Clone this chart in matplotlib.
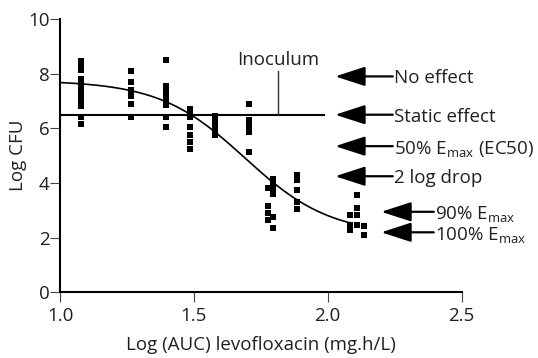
import numpy as np
import matplotlib
matplotlib.use("Agg")
import matplotlib.pyplot as plt

plt.rcParams['font.family'] = ['Open Sans', 'DejaVu Sans']
plt.rcParams['mathtext.default'] = 'regular'

# ---- data ----
group_x = [1.08, 1.264, 1.396, 1.486, 1.578, 1.707, 1.778, 1.797, 1.886, 2.083, 2.11, 2.136]
group_y = [
    [8.45, 8.3, 8.15, 7.8, 7.6, 7.45, 7.25, 7.05, 6.9, 6.8, 6.4, 6.15],
    [8.1, 7.7, 7.4, 7.2, 6.9, 6.4],
    [8.5, 7.55, 7.35, 7.15, 6.95, 6.85, 6.4, 6.05],
    [6.7, 6.55, 6.4, 6.05, 5.75, 5.5, 5.25],
    [6.45, 6.25, 6.05, 5.9, 5.75],
    [6.9, 6.3, 6.1, 5.85, 5.15],
    [3.83, 3.15, 2.9, 2.65],
    [4.15, 3.95, 3.75, 3.6, 2.75, 2.35],
    [4.28, 4.12, 3.74, 3.3, 3.05],
    [2.82, 2.46, 2.28],
    [3.57, 3.09, 2.82, 2.48],
    [2.43, 2.11],
]

# sigmoid Emax model (log scale)
model_top = 7.75
model_bottom = 2.1
model_x50 = 1.69
model_slope = 0.16
curve_range = (1.0, 2.085)

inoculum_level = 6.5
inoculum_range = (1.0, 1.985)
inoculum_label_x = 1.816
inoculum_tick_top = 8.1

effect_labels = ["No effect", "Static effect", "50% E$_{max}$ (EC50)", "2 log drop",
                 "90% E$_{max}$", "100% E$_{max}$"]
effect_levels = [7.9, 6.5, 5.35, 4.25, 2.95, 2.2]
arrow_tip_x = [2.028, 2.028, 2.028, 2.028, 2.2, 2.2]
arrow_tail_x = [2.243, 2.243, 2.243, 2.243, 2.396, 2.396]

x_ticks = [1.0, 1.5, 2.0, 2.5]
x_ticklabels = ["1.0", "1.5", "2.0", "2.5"]
y_ticks = [0, 2, 4, 6, 8, 10]

text_color = '#231f20'
fs = 13.5

fig = plt.figure(figsize=(5.38, 3.58), dpi=100)
ax = fig.add_axes([0.1115, 0.183, 0.7465, 0.764])

xs = np.concatenate([[gx] * len(gy) for gx, gy in zip(group_x, group_y)])
ys = np.concatenate([gy for gy in group_y])
ax.plot(xs, ys, linestyle='none', marker='s', markersize=4.2, color='black',
        markeredgewidth=0, zorder=3)

xc = np.linspace(curve_range[0], curve_range[1], 300)
yc = model_bottom + (model_top - model_bottom) / (1 + np.exp((xc - model_x50) / model_slope))
ax.plot(xc, yc, color='black', lw=1.2, zorder=2)

ax.plot(inoculum_range, [inoculum_level, inoculum_level], color='black', lw=1.5, zorder=2)
ax.plot([inoculum_label_x, inoculum_label_x], [inoculum_level, inoculum_tick_top],
        color='#333333', lw=1.0, zorder=2)
ax.text(inoculum_label_x, 8.5, "Inoculum", ha='center', va='center',
        fontsize=fs, color=text_color)

for lab, lvl, tip, tail in zip(effect_labels, effect_levels, arrow_tip_x, arrow_tail_x):
    ax.annotate('', xy=(tip, lvl), xytext=(tail, lvl),
                arrowprops=dict(arrowstyle='-|>,head_length=1.85,head_width=0.6',
                                color='black', lw=1.6, shrinkA=0, shrinkB=0),
                annotation_clip=False)
    ax.text(tail + 0.003, lvl, lab, ha='left', va='center_baseline', fontsize=fs,
            color=text_color, clip_on=False)

ax.set_xlim(1.0, 2.5)
ax.set_ylim(0, 10)
ax.set_xticks(x_ticks)
ax.set_xticklabels(x_ticklabels)
ax.set_yticks(y_ticks)
for s in ['top', 'right']:
    ax.spines[s].set_visible(False)
for s in ['left', 'bottom']:
    ax.spines[s].set_linewidth(1.5)
    ax.spines[s].set_color('black')
ax.tick_params(direction='out', length=7.5, width=0.8, color='#444444',
               labelsize=fs, labelcolor=text_color)
ax.tick_params(axis='x', pad=3)
ax.tick_params(axis='y', pad=0)
ax.set_xlabel("Log (AUC) levofloxacin (mg.h/L)", fontsize=fs, color=text_color, labelpad=8)
ax.set_ylabel("Log CFU", fontsize=fs, color=text_color, labelpad=1)

fig.savefig("out.png", dpi=100)
